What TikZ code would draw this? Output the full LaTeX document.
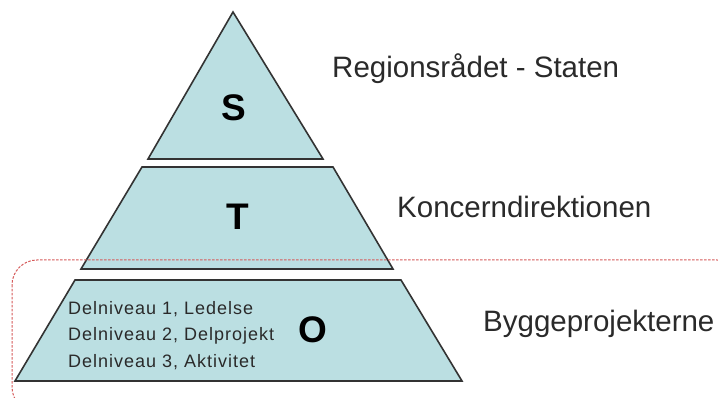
\documentclass[tikz,border=0pt]{standalone}
\usepackage{fontspec}
\setmainfont{Liberation Sans}
\begin{document}
\begin{tikzpicture}[x=1pt,y=-1pt,
  level/.style={fill=pyrfill,draw=pyrline,line width=1.6pt,line join=miter},
  biglabel/.style={font=\fontsize{29.5}{34}\selectfont,text=labeltext,anchor=base west,inner sep=0pt},
  letter/.style={font=\fontsize{37}{40}\selectfont\bfseries,text=black,inner sep=0pt},
  sublabel/.style={font=\fontsize{18}{22}\selectfont\addfontfeatures{LetterSpace=5.5},text=labeltext,anchor=base west,inner sep=0pt},
  frame/.style={draw=framered,line width=1pt,dash pattern=on 2.5pt off 1.5pt,rounded corners=25pt}]
\definecolor{pyrfill}{HTML}{BBDFE2}
\definecolor{pyrline}{HTML}{333333}
\definecolor{labeltext}{HTML}{2A2A2A}
\definecolor{framered}{HTML}{D65A5A}
\useasboundingbox (0,0) rectangle (718,398);
\fill[white] (0,0) rectangle (718,398);
% levels
\draw[level] (233,12) -- (323,159) -- (148,159) -- cycle;
\draw[level] (142,167) -- (333,167) -- (393,269) -- (81,269) -- cycle;
\draw[level] (75,280) -- (401,280) -- (462,381) -- (15,381) -- cycle;
% dashed frame
\draw[frame] (12,260) rectangle (742,412);
% letters
\node[letter] (s) at (234,108) {S};
\node[letter] (t) at (238,217) {T};
\node[letter] (o) at (313,330) {O};
% sublevels
\node[sublabel] (d1) at (68,314) {Delniveau 1, Ledelse};
\node[sublabel] (d2) at (68,340) {Delniveau 2, Delprojekt};
\node[sublabel] (d3) at (68,367) {Delniveau 3, Aktivitet};
% side labels
\node[biglabel] (r) at (332,78) {Regionsrådet - Staten};
\node[biglabel] (k) at (397,218) {Koncerndirektionen};
\node[biglabel] (b) at (483,331) {Byggeprojekterne};
\end{tikzpicture}
\end{document}
